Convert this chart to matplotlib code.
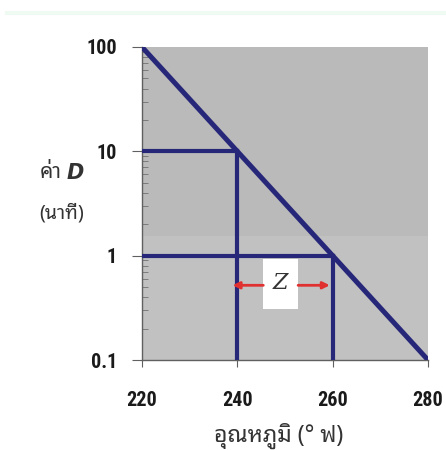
import matplotlib
matplotlib.use("Agg")
import matplotlib.pyplot as plt
from matplotlib import font_manager as fm
from matplotlib.patches import Rectangle
from matplotlib.lines import Line2D
from matplotlib.ticker import FixedLocator, LogLocator, NullFormatter

# ---- data ----
temps = [220, 280]                 # diagonal line end temperatures (°F)
dvals = [100, 0.1]                 # D values at those temperatures (min)
guide_temps = [240, 260]           # guide lines
guide_dvals = [10, 1]
x_ticks = [220, 240, 260, 280]
y_ticks = [0.1, 1, 10, 100]
y_tick_labels = ["0.1", "1", "10", "100"]
ylabel_line1 = "ค่า"
ylabel_d = "D"
ylabel_line2 = "(นาที)"
xlabel = "อุณหภูมิ (° ฟ)"
z_label = "Z"

def pick(names):
    for n in names:
        try:
            fm.findfont(fm.FontProperties(family=n), fallback_to_default=False)
            return n
        except Exception:
            pass
    return "DejaVu Sans"

thai = pick(["Noto Sans Thai Looped", "Noto Sans Thai", "Sarabun", "Anuphan", "Bai Jamjuree"])
num_font = pick(["Liberation Sans Narrow", "Arial Narrow", "Roboto Condensed", "Liberation Sans"])

navy = "#27277a"
fig = plt.figure(figsize=(4.46, 4.5), dpi=100)
fig.add_artist(Line2D([7/446, 1], [1-13/450, 1-13/450], color="#eefaf2", lw=3))
ax = fig.add_axes([142/446, 1-360/450, (428-142)/446, (360-47)/450])
ax.set_facecolor("#c1c1c1")
ax.add_patch(Rectangle((0, 0.396), 1, 0.604, transform=ax.transAxes, fc="#bababa",
                       ec="none", zorder=0))
ax.set_yscale("log")
ax.set_xlim(220, 280)
ax.set_ylim(0.1, 100)

ax.plot(temps, dvals, color=navy, lw=3.6, solid_capstyle="butt", zorder=3)
for t, d in zip(guide_temps, guide_dvals):
    ax.plot([220, t], [d, d], color=navy, lw=3.0, zorder=3)
    ax.plot([t, t], [d, 0.1], color=navy, lw=3.0, zorder=3)

# Z box and arrows
zx = 249.1
zy = 0.53
bw = 7.3
ax.add_patch(Rectangle((zx - bw/2, zy / 10**0.24), bw, zy * 10**0.24 - zy / 10**0.24,
                       fc="white", ec="none", zorder=4))
ax.text(zx, zy * 1.04, z_label, ha="center", va="center", fontsize=16, style="italic",
        family="DejaVu Serif", color="#333333", zorder=5)
ay = 0.52
ax.annotate("", xy=(guide_temps[0] - 1.0, ay), xytext=(zx - bw/2, ay),
            arrowprops=dict(arrowstyle="-|>", color="#e03030", lw=2, mutation_scale=10,
                            shrinkA=0, shrinkB=0), zorder=4)
ax.annotate("", xy=(guide_temps[1] - 0.6, ay), xytext=(zx + bw/2, ay),
            arrowprops=dict(arrowstyle="-|>", color="#e03030", lw=2, mutation_scale=10,
                            shrinkA=0, shrinkB=0), zorder=4)

for s in ["top", "right"]:
    ax.spines[s].set_visible(False)
ax.spines["left"].set_color("#606060")
ax.spines["bottom"].set_color("#606060")
ax.spines["left"].set_linewidth(1)
ax.spines["bottom"].set_linewidth(1)

ax.xaxis.set_major_locator(FixedLocator(x_ticks))
ax.set_xticklabels([str(v) for v in x_ticks])
ax.yaxis.set_major_locator(FixedLocator(y_ticks))
ax.set_yticklabels(y_tick_labels)
ax.yaxis.set_minor_locator(LogLocator(base=10, subs=range(2, 10)))
ax.yaxis.set_minor_formatter(NullFormatter())
ax.tick_params(axis="y", which="major", direction="out", length=7, color="#606060", pad=11)
ax.tick_params(axis="y", which="minor", direction="in", length=4, color="#707070")
ax.tick_params(axis="x", which="major", direction="out", length=5, color="#606060", pad=17)
for lab in ax.get_xticklabels() + ax.get_yticklabels():
    lab.set_fontfamily(num_font)
    lab.set_fontweight("bold")
    lab.set_fontsize(14.5)
    lab.set_color("#1a1a1a")

fig.text(40/446, 1-173/450, ylabel_line1, family=[thai, "DejaVu Sans"], fontsize=15,
         color="#333333", ha="left", va="center")
fig.text(67/446, 1-173/450, ylabel_d, family="DejaVu Sans", fontsize=15, style="italic",
         weight="semibold", color="#333333", ha="left", va="center")
fig.text(39/446, 1-213/450, ylabel_line2, family=[thai, "DejaVu Sans"], fontsize=14,
         color="#333333", ha="left", va="center")
fig.text(279/446, 1-436/450, xlabel, family=[thai, "DejaVu Sans"], fontsize=16.5,
         color="#333333", ha="center", va="center")

fig.savefig("out.png", dpi=100, facecolor="white")
